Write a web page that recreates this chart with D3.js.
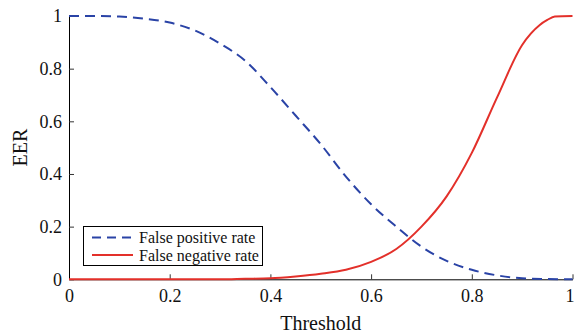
<!DOCTYPE html>
<html>
<head>
<meta charset="utf-8">
<script src="https://cdn.jsdelivr.net/npm/d3@7"></script>
<style>
  body { margin: 0; background: #fff; }
  svg { display: block; }
</style>
</head>
<body>
<script>
// EER vs threshold, two rate curves

var thresholds = [0, 0.05, 0.1, 0.15, 0.2, 0.25, 0.3, 0.35, 0.4, 0.45, 0.5,
                  0.55, 0.6, 0.65, 0.7, 0.75, 0.8, 0.85, 0.9, 0.95, 1];
var falsePositive = [1, 1, 0.998, 0.99, 0.975, 0.945, 0.895, 0.83, 0.73, 0.622, 0.513,
                     0.39, 0.285, 0.2, 0.124, 0.07, 0.036, 0.015, 0.004, 0.001, 0];

var fnThresholds = [0, 0.3, 0.35, 0.4, 0.45, 0.5, 0.55, 0.6, 0.65, 0.7, 0.75,
                    0.8, 0.85, 0.9, 0.935, 0.95, 0.965, 1];
var falseNegative = [0, 0, 0.002, 0.004, 0.011, 0.021, 0.036, 0.066, 0.115, 0.2, 0.315,
                     0.48, 0.69, 0.89, 0.966, 0.985, 0.998, 1];

var xTicks = [0, 0.2, 0.4, 0.6, 0.8, 1];
var yTicks = [0, 0.2, 0.4, 0.6, 0.8, 1];
var seriesNames = ["False positive rate", "False negative rate"];

var width = 574;
var height = 334;
var serif = "'Liberation Serif', Tinos, 'Noto Serif', 'DejaVu Serif', 'Times New Roman', Times, serif";

var svg = d3.select("body").append("svg")
    .attr("width", width)
    .attr("height", height)
    .style("font-family", serif);

var x = d3.scaleLinear().domain([0, 1]).range([69, 572.5]);
var y = d3.scaleLinear().domain([0, 1]).range([279.3, 16]);

// axes, ticks pointing inward
var xAxis = d3.axisBottom(x)
    .tickValues(xTicks)
    .tickFormat(d3.format("~g"))
    .tickSizeInner(-5)
    .tickSizeOuter(0)
    .tickPadding(10);

var yAxis = d3.axisLeft(y)
    .tickValues(yTicks)
    .tickFormat(d3.format("~g"))
    .tickSizeInner(-5)
    .tickSizeOuter(0)
    .tickPadding(7);

var gx = svg.append("g")
    .attr("transform", "translate(0," + y(0) + ")")
    .call(xAxis);

var gy = svg.append("g")
    .attr("transform", "translate(" + x(0) + ",0)")
    .call(yAxis);

[gx, gy].forEach(function(g) {
  g.attr("font-family", null).attr("font-size", 18);
  g.select(".domain").attr("stroke", "#000").attr("stroke-width", 1);
  g.selectAll(".tick line").attr("stroke", "#333");
  g.selectAll(".tick text").attr("fill", "#111");
});
gx.selectAll(".tick text").attr("dy", "0.71em");
// last x label sits on the page edge, keep it inside
gx.selectAll(".tick text").filter(function(d) { return d === 1; })
    .attr("text-anchor", "end")
    .attr("x", 1.5);

// axis titles
svg.append("text")
    .attr("x", (x(0) + x(1)) / 2)
    .attr("y", 330)
    .attr("text-anchor", "middle")
    .attr("font-size", 20)
    .attr("fill", "#111")
    .text("Threshold");

svg.append("text")
    .attr("transform", "translate(27," + ((y(0) + y(1)) / 2) + ") rotate(-90)")
    .attr("text-anchor", "middle")
    .attr("font-size", 20)
    .attr("fill", "#111")
    .text("EER");

// curves
var fpData = thresholds.map(function(t, i) { return [t, falsePositive[i]]; });
var fnData = fnThresholds.map(function(t, i) { return [t, falseNegative[i]]; });

var line = d3.line()
    .x(function(d) { return x(d[0]); })
    .y(function(d) { return y(d[1]); })
    .curve(d3.curveMonotoneX);

var blue = "#2a43a6";
var red = "#e3302a";

svg.append("path")
    .datum(fnData)
    .attr("fill", "none")
    .attr("stroke", red)
    .attr("stroke-width", 2)
    .attr("d", line);

svg.append("path")
    .datum(fpData)
    .attr("fill", "none")
    .attr("stroke", blue)
    .attr("stroke-width", 2)
    .attr("stroke-dasharray", "10,6")
    .attr("d", line);

// legend
var legend = svg.append("g");

legend.append("rect")
    .attr("x", 83.5)
    .attr("y", 226.5)
    .attr("width", 179)
    .attr("height", 39)
    .attr("fill", "#fff")
    .attr("stroke", "#000")
    .attr("stroke-width", 1);

var legendRows = [
  { name: seriesNames[0], color: blue, dash: "9,6", yy: 237.5 },
  { name: seriesNames[1], color: red, dash: null, yy: 255 }
];

legendRows.forEach(function(r) {
  legend.append("line")
    .attr("x1", 92)
    .attr("x2", 133)
    .attr("y1", r.yy)
    .attr("y2", r.yy)
    .attr("stroke", r.color)
    .attr("stroke-width", 2)
    .attr("stroke-dasharray", r.dash);
  legend.append("text")
    .attr("x", 139)
    .attr("y", r.yy + 5.5)
    .attr("font-size", 16)
    .attr("fill", "#111")
    .text(r.name);
});
</script>
</body>
</html>
